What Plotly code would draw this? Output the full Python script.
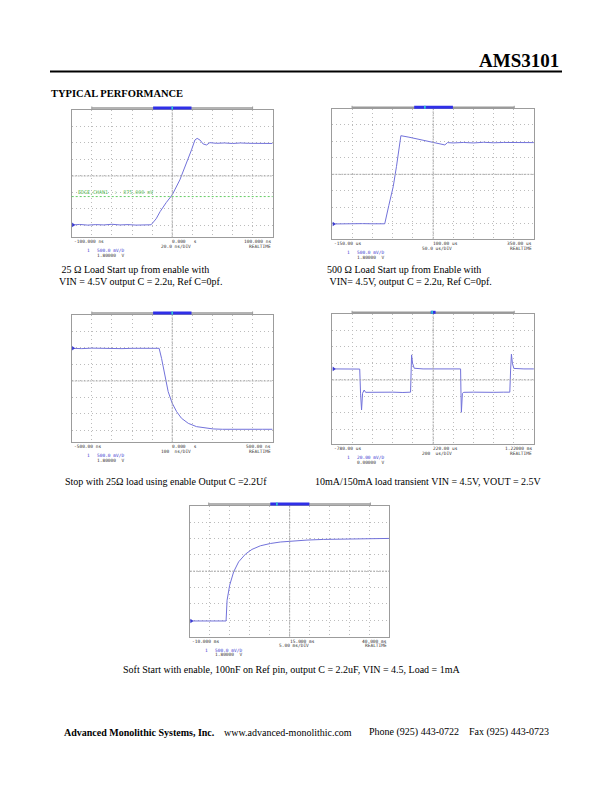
import plotly.graph_objects as go

# ---------------- data (in scope divisions) ----------------
p1_x = [-4.95, -4.6, -4.2, -3.8, -3.4, -3.0, -2.6, -2.2, -1.8, -1.4, -1.05, -0.8, -0.6, -0.3, 0.0, 0.38, 0.71,
        0.96, 1.13, 1.24, 1.38, 1.54, 1.71, 1.87, 2.2, 2.6, 3.0, 3.4, 3.8, 4.2, 4.6, 4.99]
p1_y = [-2.97, -2.94, -2.98, -2.95, -2.97, -2.93, -2.97, -2.95, -2.98, -2.95, -2.96, -2.6, -2.16, -1.62, -1.15,
        -0.24, 0.77, 1.58, 2.18, 2.28, 2.18, 1.94, 1.88, 2.02, 1.98, 2.0, 1.97, 2.0, 1.98, 1.97, 1.99, 1.97]

p2_x = [-4.96, -4.5, -4.0, -3.5, -3.0, -2.7, -2.4, -2.2, -1.98, -1.82, -1.6, -1.2, -0.8, -0.4, 0.0, 0.3, 0.58,
        0.71, 1.0, 1.5, 2.0, 2.5, 3.0, 3.5, 4.0, 4.5, 4.99]
p2_y = [-3.01, -2.99, -3.01, -2.99, -3.0, -3.01, -3.0, -1.9, -0.75, 0.46, 2.34, 2.25, 2.15, 2.05, 1.96, 1.88,
        1.78, 1.92, 1.9, 1.93, 1.9, 1.94, 1.91, 1.93, 1.92, 1.94, 1.92]

p3_x = [-4.99, -4.5, -4.0, -3.5, -3.0, -2.5, -2.0, -1.5, -1.0, -0.65, -0.53, -0.36, -0.2, 0.0, 0.22, 0.46, 0.8,
        1.21, 1.71, 2.04, 2.5, 3.0, 3.5, 4.0, 4.5, 4.99]
p3_y = [1.98, 1.96, 1.99, 1.97, 1.99, 1.96, 1.98, 1.97, 1.99, 1.98, 1.37, 0.26, -0.65, -1.35, -1.86, -2.26,
        -2.57, -2.77, -2.87, -2.91, -2.93, -2.92, -2.93, -2.92, -2.93, -2.93]

p4_x = [-4.99, -4.5, -4.0, -3.64, -3.6, -3.55, -3.5, -3.42, -3.35, -3.0, -2.5, -2.0, -1.5, -1.12, -1.09, -1.07,
        -1.02, -0.94, -0.5, 0.0, 0.5, 1.0, 1.36, 1.38, 1.40, 1.45, 1.52, 2.0, 2.5, 3.0, 3.5, 3.80, 3.84, 3.88,
        3.93, 4.0, 4.5, 4.99]
p4_y = [0.67, 0.66, 0.67, 0.66, -0.8, -1.82, -0.81, -0.61, -0.75, -0.74, -0.76, -0.74, -0.76, -0.74, 0.6, 1.52,
        1.01, 0.71, 0.67, 0.68, 0.67, 0.68, 0.67, -0.8, -1.96, -0.81, -0.75, -0.74, -0.76, -0.75, -0.74, -0.74,
        0.6, 1.56, 1.01, 0.7, 0.67, 0.67]

p5_x = [-4.99, -4.5, -4.0, -3.5, -3.19, -3.14, -3.01, -2.81, -2.56, -2.22, -1.89, -1.47, -0.97, -0.47, 0.2,
        0.87, 1.71, 2.88, 3.5, 4.2, 5.0]
p5_y = [-3.04, -3.03, -3.04, -3.03, -3.04, -1.78, -0.86, -0.04, 0.57, 1.04, 1.33, 1.55, 1.69, 1.78, 1.86, 1.9,
        1.94, 1.96, 1.97, 1.99, 2.0]

# scope readout labels: left, center, timebase, right, channel scale, channel offset
p1_labels = ["-100.000 ns", "0.000\u00a0\u00a0\u00a0s", "20.0 ns/DIV", "100.000 ns", "500.0 mV/D", "1.80000\u00a0\u00a0V"]
p2_labels = ["-150.00 us", "100.00 us", "50.0 us/DIV", "350.00 us", "500.0 mV/D", "1.80000\u00a0\u00a0V"]
p3_labels = ["-500.00 ns", "0.000\u00a0\u00a0\u00a0s", "100\u00a0\u00a0ns/DIV", "500.00 ns", "500.0 mV/D", "1.80000\u00a0\u00a0V"]
p4_labels = ["-780.00 us", "220.00 us", "200\u00a0\u00a0us/DIV", "1.22000 ms", "20.00 mV/D", "0.00000\u00a0\u00a0V"]
p5_labels = ["-10.000 ms", "15.000 ms", "5.00 ms/DIV", "40.000 ms", "500.0 mV/D", "1.80000\u00a0\u00a0V"]

trigger_text = "EDGE,CHAN1\u00a0\u00a0:\u00a0\u00a0875.000 mV"
trigger_level = -1.25

captions = [
    ("\u00a025 \u03a9 Load Start up from enable with", 57, 269),
    ("VIN = 4.5V output C = 2.2u, Ref C=0pf.", 57, 281),
    ("500 \u03a9 Load Start up from Enable with", 325, 269),
    ("\u00a0VIN= 4.5V, output C = 2.2u, Ref C=0pf.", 325, 281),
    ("Stop with 25\u03a9 load using enable Output C =2.2Uf", 63, 481),
    ("10mA/150mA load transient VIN = 4.5V, VOUT = 2.5V", 313, 481),
    ("Soft Start with enable, 100nF on Ref pin, output C = 2.2uF, VIN = 4.5, Load = 1mA", 121, 669),
]

# ---------------- layout helpers ----------------
W, H = 612, 792
def px(x):
    return x / W
def py(y):
    return 1 - y / H

# panel boxes: left, right, top, bottom (page px), y range
panels = [
    dict(x=p1_x, y=p1_y, lab=p1_labels, box=(71.7, 272.7, 110.0, 237.3), yr=(-3.72, 4.0),
         bar=(-4.0, 4.0, -0.95, 0.96, 0.0), trig=True),
    dict(x=p2_x, y=p2_y, lab=p2_labels, box=(332.3, 534.0, 109.3, 239.3), yr=(-3.94, 3.94),
         bar=(-4.02, 4.02, -0.94, 0.98, -0.41), trig=False),
    dict(x=p3_x, y=p3_y, lab=p3_labels, box=(71.7, 272.7, 315.0, 442.3), yr=(-3.72, 4.0),
         bar=(-4.0, 4.0, -0.95, 0.96, 0.0), trig=False),
    dict(x=p4_x, y=p4_y, lab=p4_labels, box=(332.3, 534.0, 314.3, 444.3), yr=(-3.9, 3.98),
         bar=(-4.02, 4.02, -0.12, 0.12, -0.05), trig=False),
    dict(x=p5_x, y=p5_y, lab=p5_labels, box=(190.0, 389.3, 506.0, 636.7), yr=(-4.0, 3.98),
         bar=(-4.06, 4.05, -0.97, 0.99, -0.64), trig=False),
]

TRACE = "#7272da"
MONO = "DejaVu Sans Mono"
SERIF = "Liberation Serif"

fig = go.Figure()
shapes = []
annotations = []
layout_axes = {}

for i, p in enumerate(panels, start=1):
    xa = "x" if i == 1 else f"x{i}"
    ya = "y" if i == 1 else f"y{i}"
    xkey = "xaxis" if i == 1 else f"xaxis{i}"
    ykey = "yaxis" if i == 1 else f"yaxis{i}"
    l, r, t, b = p["box"]
    ybot, ytop = p["yr"]
    boxh = b - t

    fig.add_trace(go.Scatter(x=p["x"], y=p["y"], mode="lines", line=dict(color=TRACE, width=1),
                             xaxis=xa, yaxis=ya, hoverinfo="skip", showlegend=False))
    # ground reference marker at left edge
    fig.add_trace(go.Scatter(x=[-4.93], y=[p["y"][0]], mode="markers",
                             marker=dict(symbol="triangle-right", size=4, color="#3a3ad0"),
                             cliponaxis=False, xaxis=xa, yaxis=ya, hoverinfo="skip", showlegend=False))

    layout_axes[xkey] = dict(domain=[px(l), px(r)], anchor=ya, range=[-5, 5],
                             tickvals=[-4, -3, -2, -1, 0, 1, 2, 3, 4], showticklabels=False,
                             showgrid=True, gridcolor="#bcbcbc", griddash="1px,3px", gridwidth=1,
                             zeroline=False, showline=True, mirror=True, linecolor="#9c9c9c",
                             linewidth=1, ticks="", fixedrange=True)
    layout_axes[ykey] = dict(domain=[py(b), py(t)], anchor=xa, range=[ybot, ytop],
                             tickvals=[-3, -2, -1, 0, 1, 2, 3], showticklabels=False,
                             showgrid=True, gridcolor="#bcbcbc", griddash="1px,3px", gridwidth=1,
                             zeroline=False, showline=True, mirror=True, linecolor="#9c9c9c",
                             linewidth=1, ticks="", fixedrange=True)

    xd = f"{xa} domain"
    yd = f"{ya} domain"
    yc = (0 - ybot) / (ytop - ybot)
    # center cross lines (denser dots)
    shapes.append(dict(type="line", xref=xd, yref=yd, x0=0.5, x1=0.5, y0=0, y1=1,
                       line=dict(color="#ababab", width=1, dash="2px,1px")))
    shapes.append(dict(type="line", xref=xd, yref=yd, x0=0, x1=1, y0=yc, y1=yc,
                       line=dict(color="#ababab", width=1, dash="2px,1px")))

    # top memory bar
    g0, g1, b0, b1, c = p["bar"]
    ybar = 1 + 2.0 / boxh
    dom = lambda d: (d + 5) / 10
    shapes.append(dict(type="line", xref=xd, yref=yd, x0=dom(g0), x1=dom(g1), y0=ybar, y1=ybar,
                       line=dict(color="#9a9a9a", width=1.5)))
    shapes.append(dict(type="line", xref=xd, yref=yd, x0=dom(b0), x1=dom(b1), y0=ybar, y1=ybar,
                       line=dict(color="#2f2fe8", width=3)))
    shapes.append(dict(type="line", xref=xd, yref=yd, x0=dom(c) - 0.004, x1=dom(c) + 0.004, y0=ybar, y1=ybar,
                       line=dict(color="#30d0d0", width=3)))
    shapes.append(dict(type="line", xref=xd, yref=yd, x0=dom(g0), x1=dom(g0), y0=ybar - 1.5 / boxh,
                       y1=ybar + 1.5 / boxh, line=dict(color="#9a9a9a", width=1)))
    shapes.append(dict(type="line", xref=xd, yref=yd, x0=dom(g1), x1=dom(g1), y0=ybar - 1.5 / boxh,
                       y1=ybar + 1.5 / boxh, line=dict(color="#9a9a9a", width=1)))

    if p["trig"]:
        yt = (trigger_level - ybot) / (ytop - ybot)
        shapes.append(dict(type="line", xref=xd, yref=yd, x0=0, x1=1, y0=yt, y1=yt,
                           line=dict(color="#66cc66", width=1, dash="2px,2px")))
        annotations.append(dict(text=trigger_text, xref=xd, yref=yd, x=0.02, y=yt, xanchor="left",
                                yanchor="bottom", yshift=0, showarrow=False,
                                font=dict(family=MONO, size=5, color="#55bb55")))

    lab = p["lab"]
    f_black = dict(family=MONO, size=4.5, color="#333333")
    f_blue = dict(family=MONO, size=4.5, color="#3a3ad0")
    def add(text, x, xanchor, yshift, font, xshift=0):
        annotations.append(dict(text=text, xref=xd, yref=yd, x=x, y=0, xanchor=xanchor,
                                yanchor="middle", yshift=yshift, xshift=xshift,
                                showarrow=False, font=font))
    add(lab[0], 0, "left", -4.5, f_black)
    add(lab[1], 0.5, "left", -4.5, f_black, xshift=-2)
    add(lab[2], 0.5, "center", -9.0, f_black, xshift=4)
    add(lab[3], 1, "right", -4.5, f_black)
    add("REALTIME", 1, "right", -9.0, f_black)
    add("1", 0, "left", -13.5, f_blue, xshift=13)
    add(lab[4], 0, "left", -13.5, f_blue, xshift=23)
    add(lab[5], 0, "left", -18.0, f_black, xshift=23)

# ---------------- page text ----------------
annotations.append(dict(text="<b>AMS3101</b>", xref="paper", yref="paper", x=px(561), y=py(60),
                        xanchor="right", yanchor="middle", showarrow=False,
                        font=dict(family=SERIF, size=19, color="black")))
shapes.append(dict(type="line", xref="paper", yref="paper", x0=px(50), x1=px(562), y0=py(71.5), y1=py(71.5),
                   line=dict(color="black", width=2)))
annotations.append(dict(text="<b>TYPICAL PERFORMANCE</b>", xref="paper", yref="paper", x=px(49), y=py(93),
                        xanchor="left", yanchor="middle", showarrow=False,
                        font=dict(family=SERIF, size=10.5, color="black")))
for text, x, y in captions:
    annotations.append(dict(text=text, xref="paper", yref="paper", x=px(x), y=py(y),
                            xanchor="left", yanchor="middle", showarrow=False,
                            font=dict(family=SERIF, size=10, color="black")))

footer = [
    ("<b>Advanced Monolithic Systems, Inc.</b>", 62),
    ("www.advanced-monolithic.com", 222),
    ("Phone (925) 443-0722", 367),
    ("Fax (925) 443-0723", 467),
]
for text, x in footer:
    annotations.append(dict(text=text, xref="paper", yref="paper", x=px(x), y=py(732),
                            xanchor="left", yanchor="middle", showarrow=False,
                            font=dict(family=SERIF, size=10, color="black")))

fig.update_layout(width=W, height=H, margin=dict(l=0, r=0, t=0, b=0), paper_bgcolor="white",
                  plot_bgcolor="white", showlegend=False, shapes=shapes, annotations=annotations,
                  **layout_axes)

fig.write_html("out.html", config=dict(displayModeBar=False))
